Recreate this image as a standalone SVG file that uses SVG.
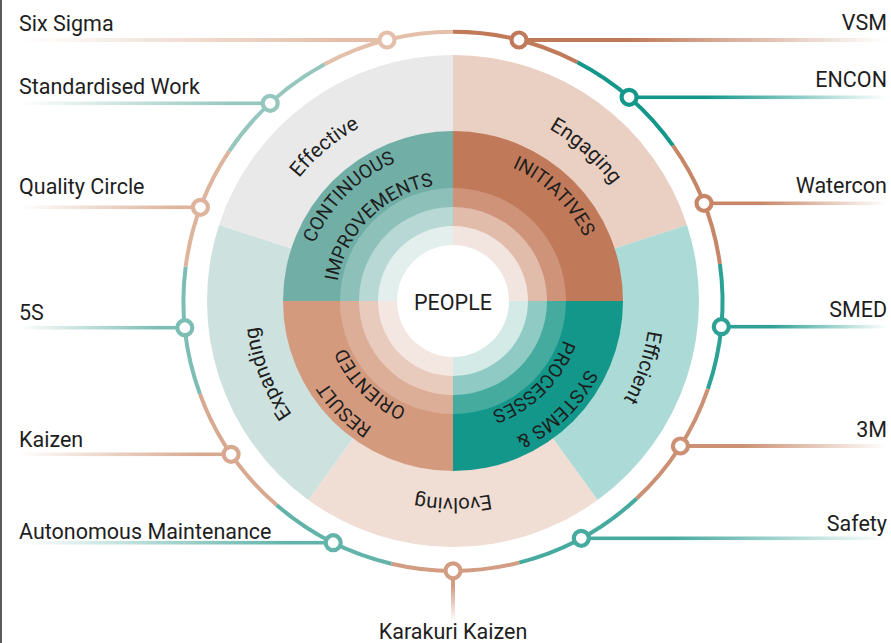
<svg xmlns="http://www.w3.org/2000/svg" xmlns:xlink="http://www.w3.org/1999/xlink" width="891" height="643" viewBox="0 0 891 643">
<style>
text{font-family:Roboto,"Liberation Sans",sans-serif;fill:#1e1e1e}
.lbl{font-size:21.5px}
.sec{font-size:20.5px}
.q{font-size:19px}
.ring path{fill:none;stroke-width:4}
.dot{fill:#fff;stroke-width:4.2}
</style>
<defs>
<linearGradient id="gL" x1="0" y1="0" x2="1" y2="0"><stop offset="0" stop-color="#000"/><stop offset="0.85" stop-color="#fff"/></linearGradient>
<linearGradient id="gR" x1="0" y1="0" x2="1" y2="0"><stop offset="0" stop-color="#fff"/><stop offset="0.3" stop-color="#fff"/><stop offset="1" stop-color="#000"/></linearGradient>
<linearGradient id="gD" x1="0" y1="0" x2="0" y2="1"><stop offset="0" stop-color="#fff"/><stop offset="0.3" stop-color="#fff"/><stop offset="1" stop-color="#000"/></linearGradient>
<mask id="fadeL" maskContentUnits="objectBoundingBox"><rect width="1" height="1" fill="url(#gL)"/></mask>
<mask id="fadeR" maskContentUnits="objectBoundingBox"><rect width="1" height="1" fill="url(#gR)"/></mask>
<mask id="fadeD" maskContentUnits="objectBoundingBox"><rect width="1" height="1" fill="url(#gD)"/></mask>
<clipPath id="cTL"><rect x="280" y="128" width="173" height="173"/></clipPath>
<clipPath id="cTR"><rect x="453" y="128" width="173" height="173"/></clipPath>
<clipPath id="cBR"><rect x="453" y="301" width="173" height="173"/></clipPath>
<clipPath id="cBL"><rect x="280" y="301" width="173" height="173"/></clipPath>
<path id="t197" d="M453,104 A197,197 0 1,1 453,498 A197,197 0 1,1 453,104"/>
<path id="t150" d="M453,151 A150,150 0 1,1 453,451 A150,150 0 1,1 453,151"/>
<path id="t146" d="M453,155 A146,146 0 1,1 453,447 A146,146 0 1,1 453,155"/>
<path id="t117" d="M453,184 A117,117 0 1,1 453,418 A117,117 0 1,1 453,184"/>
</defs>
<rect width="891" height="643" fill="#fff"/>
<rect x="0" y="0" width="2" height="643" fill="#5a5a5a"/>

<g id="sectors">
<path d="M453,301 L453,55 A246,246 0 0,1 686.96,224.98 Z" fill="#eacfc3"/>
<path d="M453,301 L686.96,224.98 A246,246 0 0,1 597.6,500 Z" fill="#acdad6"/>
<path d="M453,301 L597.6,500 A246,246 0 0,1 308.4,500 Z" fill="#f0ddd3"/>
<path d="M453,301 L308.4,500 A246,246 0 0,1 219.04,224.98 Z" fill="#cde2df"/>
<path d="M453,301 L219.04,224.98 A246,246 0 0,1 453,55 Z" fill="#e9e9e9"/>
</g>

<g id="quad-continuous" clip-path="url(#cTL)">
<circle cx="453" cy="301" r="170" fill="#70aea6"/>
<circle cx="453" cy="301" r="113" fill="#8ec0ba"/>
<circle cx="453" cy="301" r="94" fill="#b7d8d4"/>
<circle cx="453" cy="301" r="75" fill="#e2efed"/>
</g>
<g id="quad-initiatives" clip-path="url(#cTR)">
<circle cx="453" cy="301" r="170" fill="#c07a59"/>
<circle cx="453" cy="301" r="113" fill="#cf9379"/>
<circle cx="453" cy="301" r="94" fill="#e1bcab"/>
<circle cx="453" cy="301" r="75" fill="#f2e4df"/>
</g>
<g id="quad-systems" clip-path="url(#cBR)">
<circle cx="453" cy="301" r="170" fill="#13978a"/>
<circle cx="453" cy="301" r="113" fill="#45ab9f"/>
<circle cx="453" cy="301" r="94" fill="#8fcbc4"/>
<circle cx="453" cy="301" r="75" fill="#d3eae7"/>
</g>
<g id="quad-result" clip-path="url(#cBL)">
<circle cx="453" cy="301" r="170" fill="#d49a7e"/>
<circle cx="453" cy="301" r="113" fill="#dcae97"/>
<circle cx="453" cy="301" r="94" fill="#e9cbbd"/>
<circle cx="453" cy="301" r="75" fill="#f4e7e1"/>
</g>
<g id="people">
<circle cx="453" cy="301" r="56" fill="#fff"/>
<text class="lbl" x="453" y="310" text-anchor="middle">PEOPLE</text>
</g>

<g id="sector-labels">
<text class="sec"><textPath href="#t197" xlink:href="#t197" startOffset="88.94%" text-anchor="middle">Effective</textPath></text>
<text class="sec"><textPath href="#t197" xlink:href="#t197" startOffset="11.53%" text-anchor="middle">Engaging</textPath></text>
<text class="sec"><textPath href="#t197" xlink:href="#t197" startOffset="30.36%" text-anchor="middle">Efficient</textPath></text>
<text class="sec"><textPath href="#t197" xlink:href="#t197" startOffset="50%" text-anchor="middle">Evolving</textPath></text>
<text class="sec"><textPath href="#t197" xlink:href="#t197" startOffset="69.08%" text-anchor="middle">Expanding</textPath></text>
</g>
<g id="quad-labels">
<text class="q"><textPath href="#t150" xlink:href="#t150" startOffset="87.5%" text-anchor="middle">CONTINUOUS</textPath></text>
<text class="q"><textPath href="#t117" xlink:href="#t117" startOffset="87.5%" text-anchor="middle">IMPROVEMENTS</textPath></text>
<text class="q"><textPath href="#t146" xlink:href="#t146" startOffset="12.22%" text-anchor="middle">INITIATIVES</textPath></text>
<text class="q"><textPath href="#t150" xlink:href="#t150" startOffset="37.78%" text-anchor="middle">SYSTEMS &amp;</textPath></text>
<text class="q"><textPath href="#t117" xlink:href="#t117" startOffset="37.5%" text-anchor="middle">PROCESSES</textPath></text>
<text class="q"><textPath href="#t150" xlink:href="#t150" startOffset="62.5%" text-anchor="middle">RESULT</textPath></text>
<text class="q"><textPath href="#t117" xlink:href="#t117" startOffset="62.5%" text-anchor="middle">ORIENTED</textPath></text>
</g>

<g id="connectors">
<g class="ring">
<path d="M453,31.8 A269.5,269.5 0 0,1 577.4,62.2" stroke="#c07a59"/>
<path d="M577.4,62.2 A269.5,269.5 0 0,1 673,145.7" stroke="#13978a"/>
<path d="M673,145.7 A269.5,269.5 0 0,1 719.9,264" stroke="#c68667"/>
<path d="M719.9,264 A269.5,269.5 0 0,1 707.9,388.8" stroke="#2da195"/>
<path d="M707.9,388.8 A269.5,269.5 0 0,1 636.7,498.5" stroke="#cc9174"/>
<path d="M636.7,498.5 A269.5,269.5 0 0,1 519.2,562.6" stroke="#47aa9f"/>
<path d="M519.2,562.6 A269.5,269.5 0 0,1 391.4,563.7" stroke="#d29d82"/>
<path d="M391.4,563.7 A269.5,269.5 0 0,1 276.6,505" stroke="#62b4aa"/>
<path d="M276.6,505 A269.5,269.5 0 0,1 199.9,393.9" stroke="#d8a990"/>
<path d="M199.9,393.9 A269.5,269.5 0 0,1 185.7,266.6" stroke="#7cbdb4"/>
<path d="M185.7,266.6 A269.5,269.5 0 0,1 229.2,151.1" stroke="#deb49d"/>
<path d="M229.2,151.1 A269.5,269.5 0 0,1 324.6,64.3" stroke="#96c7bf"/>
<path d="M324.6,64.3 A269.5,269.5 0 0,1 453,31.8" stroke="#e4c0ab"/>
</g>
<g class="leaders">
<rect x="19" y="38" width="368" height="4" fill="#e4c0ab" mask="url(#fadeL)"/>
<rect x="19" y="101.3" width="251.2" height="4" fill="#96c7bf" mask="url(#fadeL)"/>
<rect x="19" y="205.3" width="181.4" height="4" fill="#deb49d" mask="url(#fadeL)"/>
<rect x="19" y="325.7" width="165.8" height="4" fill="#7cbdb4" mask="url(#fadeL)"/>
<rect x="19" y="452.3" width="212.1" height="4" fill="#d8a990" mask="url(#fadeL)"/>
<rect x="19" y="540.7" width="314.2" height="4" fill="#62b4aa" mask="url(#fadeL)"/>
<rect x="519" y="38" width="368" height="4" fill="#c07a59" mask="url(#fadeR)"/>
<rect x="629.1" y="95.3" width="257.9" height="4" fill="#13978a" mask="url(#fadeR)"/>
<rect x="704" y="201.3" width="183" height="4" fill="#c68667" mask="url(#fadeR)"/>
<rect x="721.3" y="324.7" width="165.7" height="4" fill="#2da195" mask="url(#fadeR)"/>
<rect x="680.4" y="444" width="206.6" height="4" fill="#cc9174" mask="url(#fadeR)"/>
<rect x="581.3" y="536.3" width="305.7" height="4" fill="#47aa9f" mask="url(#fadeR)"/>
<rect x="451" y="571" width="4" height="50" fill="#d29d82" mask="url(#fadeD)"/>
</g>
</g>

<g id="node-six-sigma"><circle class="dot" cx="387" cy="40" r="7.5" stroke="#e4c0ab"/><text class="lbl" x="19" y="30.5">Six Sigma</text></g>
<g id="node-standardised-work"><circle class="dot" cx="270.2" cy="103.3" r="7.5" stroke="#96c7bf"/><text class="lbl" x="19" y="93.5">Standardised Work</text></g>
<g id="node-quality-circle"><circle class="dot" cx="200.4" cy="207.3" r="7.5" stroke="#deb49d"/><text class="lbl" x="19" y="194">Quality Circle</text></g>
<g id="node-5s"><circle class="dot" cx="184.8" cy="327.7" r="7.5" stroke="#7cbdb4"/><text class="lbl" x="19" y="319.5">5S</text></g>
<g id="node-kaizen"><circle class="dot" cx="231.1" cy="454.3" r="7.5" stroke="#d8a990"/><text class="lbl" x="19" y="446.5">Kaizen</text></g>
<g id="node-autonomous-maintenance"><circle class="dot" cx="333.2" cy="542.7" r="7.5" stroke="#62b4aa"/><text class="lbl" x="19" y="538.5">Autonomous Maintenance</text></g>
<g id="node-karakuri-kaizen"><circle class="dot" cx="453" cy="570.8" r="7.5" stroke="#d29d82"/><text class="lbl" x="453" y="639" text-anchor="middle">Karakuri Kaizen</text></g>
<g id="node-safety"><circle class="dot" cx="581.3" cy="538.3" r="7.5" stroke="#47aa9f"/><text class="lbl" x="887" y="531" text-anchor="end">Safety</text></g>
<g id="node-3m"><circle class="dot" cx="680.4" cy="446" r="7.5" stroke="#cc9174"/><text class="lbl" x="887" y="437.3" text-anchor="end">3M</text></g>
<g id="node-smed"><circle class="dot" cx="721.3" cy="326.7" r="7.5" stroke="#2da195"/><text class="lbl" x="887" y="317.3" text-anchor="end">SMED</text></g>
<g id="node-watercon"><circle class="dot" cx="704" cy="203.3" r="7.5" stroke="#c68667"/><text class="lbl" x="887" y="193.3" text-anchor="end">Watercon</text></g>
<g id="node-encon"><circle class="dot" cx="629.1" cy="97.3" r="7.5" stroke="#13978a"/><text class="lbl" x="887" y="86.7" text-anchor="end">ENCON</text></g>
<g id="node-vsm"><circle class="dot" cx="519" cy="40" r="7.5" stroke="#c07a59"/><text class="lbl" x="887" y="29.5" text-anchor="end">VSM</text></g>
</svg>
